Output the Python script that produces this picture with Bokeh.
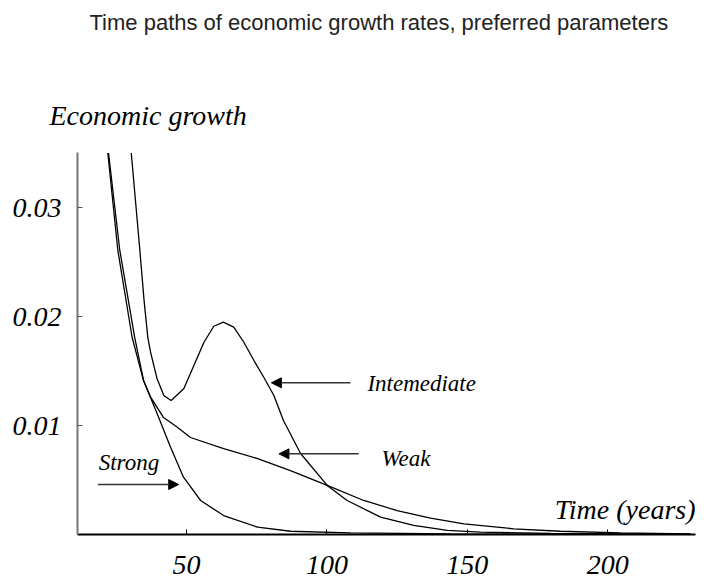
from bokeh.plotting import figure
from bokeh.models import Range1d, FixedTicker, Label, Arrow, NormalHead, Title
from bokeh.embed import file_html
from bokeh.resources import INLINE

# ---- data ----
strong_t = [22.2, 26.2, 31.5, 34.7, 39.5, 44.3, 48.9, 55.0, 63.2, 75.3, 87.0, 108.4, 144.0, 229.5]
strong_g = [0.0350, 0.0261, 0.0181, 0.0141, 0.0111, 0.0080, 0.00526, 0.00312, 0.00174, 0.00067, 0.0003, 0.00014, 0.00005, 0.0]

weak_t = [21.95, 25.5, 30.6, 34.7, 37.2, 41.8, 46.7, 51.4, 63.2, 75.3, 87.0, 100.1, 113.1, 125.0, 136.9, 148.8, 166.5, 183.2, 204.6, 229.5]
weak_g = [0.0350, 0.0261, 0.0181, 0.0141, 0.0126, 0.01073, 0.00984, 0.0089, 0.00789, 0.00697, 0.00587, 0.0045, 0.00312, 0.0022, 0.0015, 0.00098, 0.00052, 0.0003, 0.00014, 0.00005]

inter_t = [30.3, 33.35, 34.85, 36.2, 37.2, 39.5, 41.9, 44.5, 49.0, 52.6, 56.2, 59.7, 63.1, 66.8, 70.4, 74.0, 77.5, 81.1, 84.5, 90.6, 100.1, 107.2, 119.1, 130.9, 142.9, 154.7, 179.7, 229.5]
inter_g = [0.0350, 0.0261, 0.0215, 0.01807, 0.0167, 0.01428, 0.01275, 0.01229, 0.01337, 0.0155, 0.01764, 0.01911, 0.01948, 0.01902, 0.01764, 0.01596, 0.01443, 0.01275, 0.01046, 0.00743, 0.0045, 0.00312, 0.00159, 0.00083, 0.00037, 0.00021, 0.00009, 0.0]

x_ticks = [50, 100, 150, 200]
x_tick_labels = ["50", "100", "150", "200"]
y_ticks = [0.01, 0.02, 0.03]
y_tick_labels = ["0.01", "0.02", "0.03"]

SERIF = "Liberation Serif"

p = figure(width=704, height=585, output_backend="svg", toolbar_location=None,
           x_range=Range1d(11.15, 231.27), y_range=Range1d(0, 0.03505),
           min_border_left=77, min_border_right=9, min_border_top=152, min_border_bottom=51)
p.outline_line_color = None
p.xgrid.visible = False
p.ygrid.visible = False
p.background_fill_color = "white"
p.border_fill_color = "white"

for t, g in [(strong_t, strong_g), (weak_t, weak_g), (inter_t, inter_g)]:
    p.line(t, g, line_color="black", line_width=1.3)

# axes
xa = p.xaxis[0]
xa.ticker = FixedTicker(ticks=x_ticks)
xa.major_label_overrides = {t: l for t, l in zip(x_ticks, x_tick_labels)}
xa.major_label_text_font = SERIF
xa.major_label_text_font_style = "italic"
xa.major_label_text_font_size = "28px"
xa.major_label_text_color = "black"
xa.major_label_standoff = 21
xa.major_tick_in = 5
xa.major_tick_out = 0
xa.minor_tick_in = 0
xa.minor_tick_out = 0
xa.axis_line_color = "black"
xa.axis_line_width = 2
xa.major_tick_line_color = "black"

ya = p.yaxis[0]
ya.ticker = FixedTicker(ticks=y_ticks)
ya.major_label_overrides = {t: l for t, l in zip(y_ticks, y_tick_labels)}
ya.major_label_text_font = SERIF
ya.major_label_text_font_style = "italic"
ya.major_label_text_font_size = "28px"
ya.major_label_text_color = "black"
ya.major_label_standoff = 16
ya.major_tick_in = 5
ya.major_tick_out = 0
ya.minor_tick_in = 0
ya.minor_tick_out = 0
ya.axis_line_color = "#777777"
ya.axis_line_width = 2
ya.major_tick_line_color = "#555555"

# above panels, from the frame outward: axis caption, spacer, title
p.add_layout(Title(text="Economic growth", align="left", offset=-28, standoff=44,
                   text_font=SERIF, text_font_style="italic", text_font_size="28px",
                   text_color="black"), "above")
p.add_layout(Title(text=" ", align="left", standoff=21, text_font_size="10px"), "above")
p.add_layout(Title(text="Time paths of economic growth rates, preferred parameters", align="left",
                   offset=12, standoff=13, text_font="Liberation Sans", text_font_style="normal",
                   text_font_size="22px", text_color="#222222"), "above")

p.add_layout(Label(x=231.27, y=0.0023, text="Time (years)", text_font=SERIF, text_font_style="italic",
                   text_font_size="28px", text_align="right", text_baseline="alphabetic", text_color="black"))

# curve annotations
for x, y, txt in [(114.4, 0.01389, "Intemediate"), (119.4, 0.0070, "Weak"), (18.7, 0.00664, "Strong")]:
    p.add_layout(Label(x=x, y=y, text=txt, text_font=SERIF, text_font_style="italic",
                       text_font_size="23px", text_baseline="alphabetic", text_color="black"))

for x0, x1, y in [(108.4, 80.2, 0.01392), (111.3, 82.9, 0.0074), (18.4, 47.2, 0.00459)]:
    p.add_layout(Arrow(x_start=x0, y_start=y, x_end=x1, y_end=y, line_color="#333333", line_width=1.5,
                       end=NormalHead(size=10, fill_color="black", line_color="black")))

open("out.html", "w").write(file_html(p, INLINE))
